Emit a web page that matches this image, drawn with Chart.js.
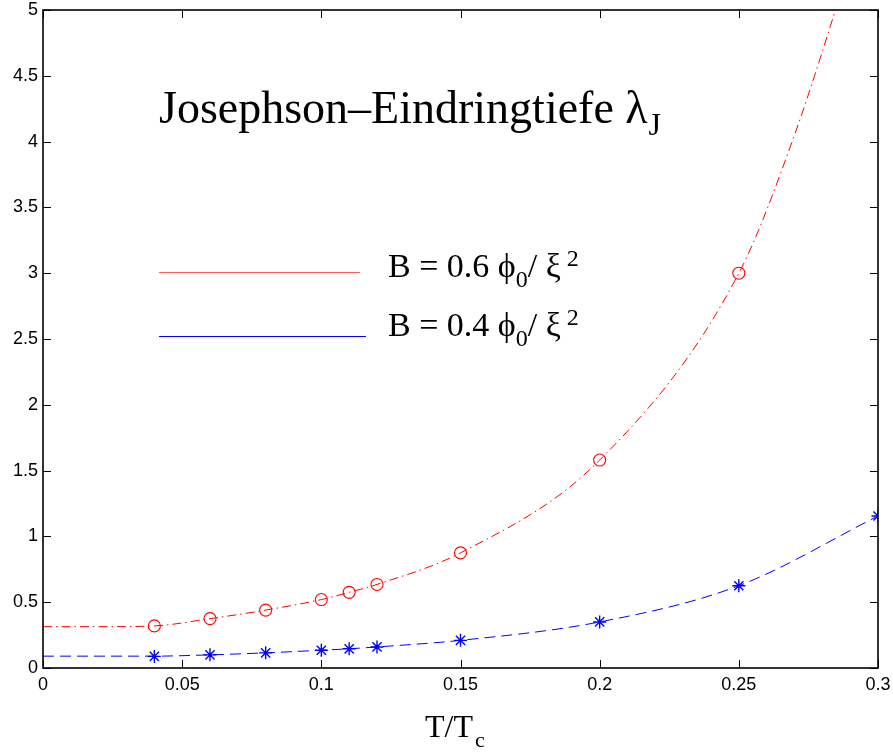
<!DOCTYPE html>
<html>
<head>
<meta charset="utf-8">
<script src="https://cdn.jsdelivr.net/npm/chart.js@4.4.1/dist/chart.umd.min.js"></script>
<style>
  html, body { margin: 0; padding: 0; background: #fff; }
  #wrap { width: 893px; height: 754px; }
</style>
</head>
<body>
<div id="wrap"><canvas id="lambdaJ" width="893" height="754"></canvas></div>
<script>
// Messpunkte B = 0.6 phi0/xi^2
const markerT06 = [0.04, 0.06, 0.08, 0.10, 0.11, 0.12, 0.15, 0.20, 0.25];
const lambda06 = [0.32, 0.375, 0.44, 0.52, 0.575, 0.635, 0.875, 1.58, 3.0];

// Messpunkte B = 0.4 phi0/xi^2
const markerT04 = [0.04, 0.06, 0.08, 0.10, 0.11, 0.12, 0.15, 0.20, 0.25, 0.30];
const lambda04 = [0.088, 0.10, 0.115, 0.135, 0.146, 0.16, 0.21, 0.35, 0.625, 1.155];

// Fitkurven
const curveT06 = [0, 0.02, 0.04, 0.06, 0.08, 0.10, 0.11, 0.12, 0.15, 0.20, 0.25, 0.27, 0.29];
const curveLambda06 = [0.314, 0.314, 0.32, 0.375, 0.44, 0.52, 0.575, 0.635, 0.875, 1.58, 3.0, 4.05, 5.35];
const curveT04 = [0, 0.02, 0.04, 0.06, 0.08, 0.10, 0.11, 0.12, 0.15, 0.20, 0.25, 0.30];
const curveLambda04 = [0.09, 0.09, 0.09, 0.10, 0.115, 0.135, 0.146, 0.16, 0.21, 0.35, 0.625, 1.155];

// Achsenbeschriftung
const xTickValues = [0, 0.05, 0.1, 0.15, 0.2, 0.25, 0.3];
const xTickLabels = ['0', '0.05', '0.1', '0.15', '0.2', '0.25', '0.3'];
const yTickValues = [0, 0.5, 1, 1.5, 2, 2.5, 3, 3.5, 4, 4.5, 5];
const yTickLabels = ['0', '0.5', '1', '1.5', '2', '2.5', '3', '3.5', '4', '4.5', '5'];

const RED = '#ff0000';
const BLUE = '#0000ff';
const SERIF = '"Liberation Serif", "DejaVu Serif", serif';
const SANS = '"Liberation Sans", Arial, sans-serif';

function toPoints(xs, ys) {
    return xs.map((x, i) => ({ x: x, y: ys[i] }));
}

// Label-Überstand nicht in das Layout einrechnen
function noOverhang(scale) {
    scale.paddingTop = 0;
    scale.paddingBottom = 0;
    scale.paddingLeft = 0;
    scale.paddingRight = 0;
}

// Text mit Index / Exponent stückweise zeichnen
function drawRuns(ctx, x, y, runs) {
    runs.forEach(r => {
        ctx.font = r.size + 'px ' + SERIF;
        ctx.fillText(r.text, x + (r.dx || 0), y + (r.dy || 0));
        x += ctx.measureText(r.text).width + (r.dx || 0);
    });
}

// Rahmen, Ticks nach innen, Beschriftungen und Legende
const annotationPlugin = {
    id: 'annotation',
    afterDraw(chart) {
        const ctx = chart.ctx;
        const area = chart.chartArea;
        const xs = chart.scales.x;
        const ys = chart.scales.y;
        const tick = 8;

        ctx.save();
        ctx.strokeStyle = '#000';
        ctx.lineWidth = 1;
        xTickValues.forEach(v => {
            const px = Math.round(xs.getPixelForValue(v)) + 0.5;
            ctx.beginPath();
            ctx.moveTo(px, area.bottom);
            ctx.lineTo(px, area.bottom - tick);
            ctx.moveTo(px, area.top);
            ctx.lineTo(px, area.top + tick);
            ctx.stroke();
        });
        yTickValues.forEach(v => {
            const py = Math.round(ys.getPixelForValue(v)) + 0.5;
            ctx.beginPath();
            ctx.moveTo(area.left, py);
            ctx.lineTo(area.left + tick, py);
            ctx.moveTo(area.right, py);
            ctx.lineTo(area.right - tick, py);
            ctx.stroke();
        });
        ctx.lineWidth = 1.6;
        ctx.strokeRect(area.left, area.top, area.right - area.left, area.bottom - area.top);

        ctx.fillStyle = '#000';
        ctx.textAlign = 'left';
        ctx.textBaseline = 'alphabetic';

        // Überschrift im Diagramm
        drawRuns(ctx, 159, 123, [
            { text: 'Josephson\u2013Eindringtiefe \u03bb', size: 46 },
            { text: 'J', size: 32, dy: 12, dx: 1 }
        ]);

        // Legende
        ctx.lineWidth = 1;
        ctx.strokeStyle = '#ff6060';
        ctx.beginPath();
        ctx.moveTo(159, 272.5);
        ctx.lineTo(360, 272.5);
        ctx.stroke();
        ctx.strokeStyle = BLUE;
        ctx.beginPath();
        ctx.moveTo(159, 336.5);
        ctx.lineTo(366, 336.5);
        ctx.stroke();

        [['0.6', 277], ['0.4', 336]].forEach(([b, base]) => {
            drawRuns(ctx, 388, base, [
                { text: 'B = ' + b + ' \u03d5', size: 34 },
                { text: '0', size: 24, dy: 10 },
                { text: '/ \u03be', size: 34 },
                { text: ' 2', size: 24, dy: -11 }
            ]);
        });

        // x-Achsentitel T/T_c
        drawRuns(ctx, 425, 737, [
            { text: 'T/T', size: 32 },
            { text: 'c', size: 22, dy: 10, dx: 2 }
        ]);
        ctx.restore();
    }
};

const chart = new Chart(document.getElementById('lambdaJ'), {
    type: 'scatter',
    data: {
        datasets: [
            {
                label: 'Fit 0.6',
                data: toPoints(curveT06, curveLambda06),
                showLine: true,
                borderColor: RED,
                borderWidth: 1,
                borderDash: [9, 4, 1.5, 4],
                pointRadius: 0,
                cubicInterpolationMode: 'monotone',
                order: 3
            },
            {
                label: 'Fit 0.4',
                data: toPoints(curveT04, curveLambda04),
                showLine: true,
                borderColor: BLUE,
                borderWidth: 1,
                borderDash: [11, 6],
                pointRadius: 0,
                cubicInterpolationMode: 'monotone',
                order: 3
            },
            {
                label: 'B = 0.6',
                data: toPoints(markerT06, lambda06),
                showLine: false,
                pointStyle: 'circle',
                pointRadius: 6,
                borderColor: RED,
                backgroundColor: 'rgba(0,0,0,0)',
                pointBorderWidth: 1.1,
                order: 1
            },
            {
                label: 'B = 0.4',
                data: toPoints(markerT04, lambda04),
                showLine: false,
                pointStyle: 'star',
                pointRadius: 6.5,
                borderColor: BLUE,
                backgroundColor: BLUE,
                pointBorderWidth: 1.4,
                order: 1
            }
        ]
    },
    options: {
        responsive: false,
        animation: false,
        devicePixelRatio: 1,
        layout: { padding: { left: 0, right: 15, top: 10, bottom: 0 } },
        plugins: {
            legend: { display: false },
            title: { display: false },
            tooltip: { enabled: false }
        },
        scales: {
            x: {
                type: 'linear',
                min: 0,
                max: 0.3,
                afterFit(scale) { scale.height = 86; noOverhang(scale); },
                afterBuildTicks(scale) { scale.ticks = xTickValues.map(v => ({ value: v })); },
                grid: { display: false, drawTicks: false },
                border: { display: false },
                ticks: {
                    padding: 6,
                    color: '#000',
                    maxRotation: 0,
                    font: { family: SANS, size: 18 },
                    callback: (value, index) => xTickLabels[index]
                }
            },
            y: {
                type: 'linear',
                min: 0,
                max: 5,
                afterFit(scale) { scale.width = 43; noOverhang(scale); },
                afterBuildTicks(scale) { scale.ticks = yTickValues.map(v => ({ value: v })); },
                grid: { display: false, drawTicks: false },
                border: { display: false },
                ticks: {
                    padding: 5,
                    color: '#000',
                    font: { family: SANS, size: 18 },
                    callback: (value, index) => yTickLabels[index]
                }
            }
        }
    },
    plugins: [annotationPlugin]
});
</script>
</body>
</html>
